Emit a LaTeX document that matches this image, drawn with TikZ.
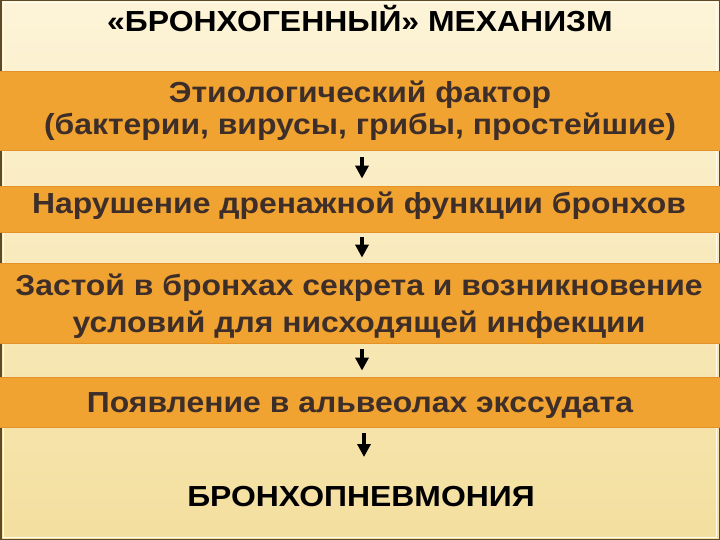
\documentclass[tikz,border=0pt]{standalone}
\usepackage{fontspec}
\setmainfont[FakeStretch=1.1]{Liberation Sans}
\usetikzlibrary{arrows.meta}
\definecolor{bgtop}{RGB}{253,244,216}
\definecolor{bgbot}{RGB}{243,223,158}
\definecolor{bandfill}{RGB}{240,163,48}
\definecolor{bandline}{RGB}{226,146,40}
\definecolor{bandtext}{RGB}{62,46,42}
\definecolor{framecol}{RGB}{92,74,40}
\tikzset{
  band/.style={rectangle, fill=bandfill, draw=bandline, line width=0.8pt,
    minimum width=722pt, inner sep=0pt},
  bandlabel/.style={anchor=base, inner sep=0pt, text=bandtext,
    font=\bfseries\fontsize{29}{33}\selectfont},
  heading/.style={anchor=base, inner sep=0pt, text=black,
    font=\bfseries\fontsize{29}{33}\selectfont},
  flow/.style={-{Triangle[width=13pt,length=13pt]}, line width=4pt, black}
}
\begin{document}
\begin{tikzpicture}[x=1pt,y=-1pt]
\useasboundingbox (0,0) rectangle (720,540);
\shade[top color=bgtop, bottom color=bgbot] (0,0) rectangle (720,540);
\draw[white!70!bgtop, line width=1pt] (3,3) rectangle (716,537);
\draw[framecol, line width=1.5pt] (0.75,0.75) rectangle (719.25,539.25);

\node[heading] (title) at (360,32) {«БРОНХОГЕННЫЙ» МЕХАНИЗМ};

\node[band, minimum height=79pt] (b1) at (360,110.5) {};
\node[bandlabel] (b1a) at (360,103) {Этиологический фактор};
\node[bandlabel] (b1b) at (360,135) {(бактерии, вирусы, грибы, простейшие)};

\node[band, minimum height=46pt] (b2) at (360,209) {};
\node[bandlabel] (b2a) at (359,214) {Нарушение дренажной функции бронхов};

\node[band, minimum height=80pt] (b3) at (360,303) {};
\node[bandlabel] (b3a) at (359,295) {Застой в бронхах секрета и возникновение};
\node[bandlabel] (b3b) at (359,332) {условий для нисходящей инфекции};

\node[band, minimum height=50pt] (b4) at (360,402) {};
\node[bandlabel] (b4a) at (360,412) {Появление в альвеолах экссудата};

\node[heading] (final) at (361,506) {БРОНХОПНЕВМОНИЯ};
\coordinate (finaltip) at (364,457);

\draw[flow] ([xshift=2pt,yshift=-7pt]b1.south) -- ([xshift=2pt,yshift=7pt]b2.north);
\draw[flow] ([xshift=2pt,yshift=-5pt]b2.south) -- ([xshift=2pt,yshift=5pt]b3.north);
\draw[flow] ([xshift=2pt,yshift=-6pt]b3.south) -- ([xshift=2pt,yshift=6pt]b4.north);
\draw[flow] ([xshift=4pt,yshift=-6pt]b4.south) -- (finaltip);
\end{tikzpicture}
\end{document}
